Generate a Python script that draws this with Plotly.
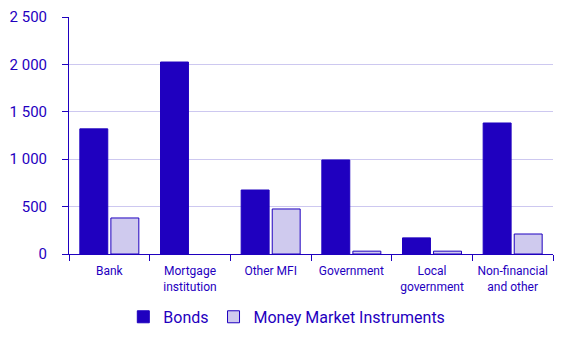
import plotly.graph_objects as go

categories = ["Bank", "Mortgage<br>institution", "Other MFI", "Government",
              "Local<br>government", "Non-financial<br>and other"]
bonds = [1320, 2025, 675, 992, 170, 1382]
money_market = [380, 0, 475, 30, 30, 211]
y_ticks = [0, 500, 1000, 1500, 2000, 2500]

text_color = "#1f00bf"
bond_color = "#1f00bf"
mmi_color = "#cfcaee"
grid_color = "#cdc8f0"

# no outline on empty bars so a zero value leaves no stray line
mmi_outline = [1 if v > 0 else 0 for v in money_market]

fig = go.Figure()
fig.add_trace(go.Bar(
    x=categories, y=bonds, name="Bonds",
    marker=dict(color=bond_color, line=dict(color=bond_color, width=1)),
))
fig.add_trace(go.Bar(
    x=categories, y=money_market, name="Money Market Instruments",
    marker=dict(color=mmi_color, line=dict(color=bond_color, width=mmi_outline)),
))

fig.update_layout(
    width=568, height=340,
    margin=dict(l=69, r=15, t=17, b=86, autoexpand=False),
    plot_bgcolor="white", paper_bgcolor="white",
    barmode="group", bargap=0.23, bargroupgap=0.1,
    separators=", ",
    font=dict(family="Roboto", color=text_color),
    showlegend=True,
    legend=dict(orientation="h", x=0.45, xanchor="center",
                yref="container", y=0.068, yanchor="middle",
                font=dict(size=16, color=text_color), itemwidth=30,
                traceorder="normal"),
)
fig.update_xaxes(
    showline=True, linecolor=text_color, linewidth=1,
    ticks="outside", tickson="boundaries", ticklen=6, tickcolor=text_color,
    tickfont=dict(size=12, color=text_color), ticklabelstandoff=6,
    showgrid=False, automargin=False,
)
fig.update_yaxes(
    range=[0, 2500], tickvals=y_ticks, tickformat=",d",
    showline=True, linecolor=text_color, linewidth=1,
    ticks="outside", ticklen=6, tickcolor=text_color,
    tickfont=dict(size=15, color=text_color), ticklabelstandoff=12,
    showgrid=True, gridcolor=grid_color, gridwidth=1,
    zeroline=False, automargin=False,
)

fig.write_html("out.html")
